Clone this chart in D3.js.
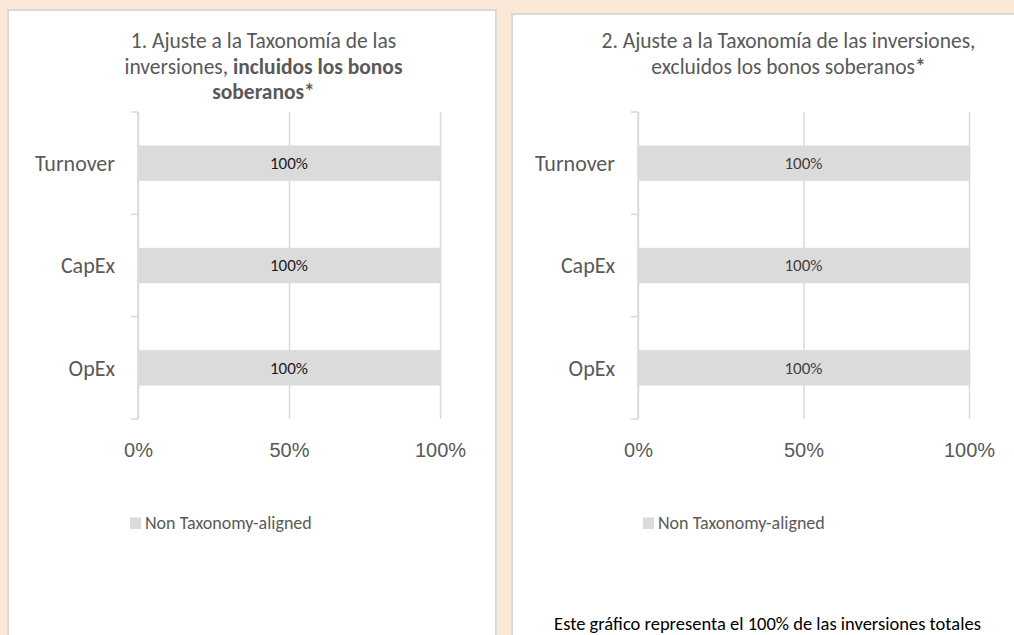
<!DOCTYPE html>
<html>
<head>
<meta charset="utf-8">
<script src="https://cdn.jsdelivr.net/npm/d3@7"></script>
<style>
    body { margin: 0; background: #fbe8d7; }
    svg { display: block; font-family: Calibri, Carlito, Lato, sans-serif; }
</style>
</head>
<body>
<div id="chart"></div>
<script>
// categories and values (both charts are 100% non aligned)
const categories = ['Turnover', 'CapEx', 'OpEx'];
const valuesIncl = [100, 100, 100];
const valuesExcl = [100, 100, 100];
const xTicks = [0, 50, 100];
const legendLabel = 'Non Taxonomy-aligned';
const footnote = 'Este gráfico representa el 100% de las inversiones totales';

const svg = d3.select('#chart').append('svg')
    .attr('width', 1014)
    .attr('height', 635);

// panel boxes
svg.append('rect')
    .attr('x', 8).attr('y', 10)
    .attr('width', 488).attr('height', 640)
    .attr('fill', '#fff').attr('stroke', '#d9d9d9').attr('stroke-width', 2);

svg.append('rect')
    .attr('x', 512).attr('y', 14)
    .attr('width', 520).attr('height', 640)
    .attr('fill', '#fff').attr('stroke', '#d9d9d9').attr('stroke-width', 2);

function drawPanel(opts) {
    let g = svg.append('g');

    let x = d3.scaleLinear()
        .domain([0, 100])
        .range([opts.left, opts.right]);

    let y = d3.scaleBand()
        .domain(categories)
        .range([112, 419])
        .paddingInner(0.654)
        .paddingOuter(0.327);

    // gridlines + tick labels
    let xAxis = g.append('g')
        .attr('transform', 'translate(0,419)')
        .call(d3.axisBottom(x)
            .tickValues(xTicks)
            .tickSize(-(419 - 112))
            .tickPadding(24)
            .tickFormat(d => d + '%'));
    xAxis.select('.domain').remove();
    xAxis.selectAll('line').attr('stroke', '#d9d9d9').attr('stroke-width', 1.5);
    xAxis.selectAll('text')
        .attr('fill', '#595959')
        .style('font-size', '20px');

    // category axis line with ticks between categories
    g.append('line')
        .attr('x1', x(0)).attr('x2', x(0))
        .attr('y1', 112).attr('y2', 419)
        .attr('stroke', '#d9d9d9').attr('stroke-width', 1.5);

    let bounds = [112].concat(categories.map(c => y(c) + y.bandwidth() + y.step() * y.paddingInner() / 2));
    g.selectAll('.ytick')
        .data(bounds)
        .enter().append('line')
        .attr('class', 'ytick')
        .attr('x1', x(0) - 7).attr('x2', x(0))
        .attr('y1', d => d).attr('y2', d => d)
        .attr('stroke', '#d9d9d9').attr('stroke-width', 1.5);

    g.selectAll('.cat')
        .data(categories)
        .enter().append('text')
        .attr('class', 'cat')
        .attr('x', x(0) - 23)
        .attr('y', d => y(d) + y.bandwidth() / 2)
        .attr('dy', '0.35em')
        .attr('text-anchor', 'end')
        .attr('fill', '#595959')
        .style('font-size', '22px')
        .text(d => d);

    // bars
    g.selectAll('.bar')
        .data(opts.values)
        .enter().append('rect')
        .attr('class', 'bar')
        .attr('x', x(0))
        .attr('y', (d, i) => y(categories[i]))
        .attr('width', d => x(d) - x(0))
        .attr('height', y.bandwidth())
        .attr('fill', '#dcdbdb');

    g.selectAll('.lbl')
        .data(opts.values)
        .enter().append('text')
        .attr('class', 'lbl')
        .attr('x', d => (x(0) + x(d)) / 2)
        .attr('y', (d, i) => y(categories[i]) + y.bandwidth() / 2)
        .attr('dy', '0.35em')
        .attr('text-anchor', 'middle')
        .attr('fill', opts.labelColor)
        .style('font-size', '17px')
        .text(d => d + '%');

    // title
    let title = g.append('text')
        .attr('text-anchor', 'middle')
        .attr('fill', '#595959')
        .style('font-size', '21.5px');
    opts.title.forEach((line, i) => {
        let t = title.append('tspan')
            .attr('x', opts.titleX)
            .attr('y', 48 + i * 25.5);
        line.forEach(part => {
            t.append('tspan')
                .attr('font-weight', part[1] ? 'bold' : 'normal')
                .text(part[0]);
        });
    });

    // legend
    g.append('rect')
        .attr('x', opts.legendX).attr('y', 517.5)
        .attr('width', 11).attr('height', 11.5)
        .attr('fill', '#dcdbdb');
    g.append('text')
        .attr('x', opts.legendX + 15).attr('y', 529)
        .attr('fill', '#595959')
        .style('font-size', '18px')
        .text(legendLabel);
}

drawPanel({
    left: 138, right: 440,
    values: valuesIncl,
    labelColor: '#1a1a1a',
    titleX: 263.5,
    legendX: 130,
    title: [
        [['1. Ajuste a la Taxonomía de las', false]],
        [['inversiones, ', false], ['incluidos los bonos', true]],
        [['soberanos*', true]]
    ]
});

drawPanel({
    left: 638, right: 969,
    values: valuesExcl,
    labelColor: '#404040',
    titleX: 788.5,
    legendX: 643,
    title: [
        [['2. Ajuste a la Taxonomía de las inversiones,', false]],
        [['excluidos los bonos soberanos', false], ['*', true]]
    ]
});

svg.append('text')
    .attr('x', 767.5).attr('y', 630)
    .attr('text-anchor', 'middle')
    .attr('fill', '#000')
    .style('font-size', '18.5px')
    .text(footnote);
</script>
</body>
</html>
